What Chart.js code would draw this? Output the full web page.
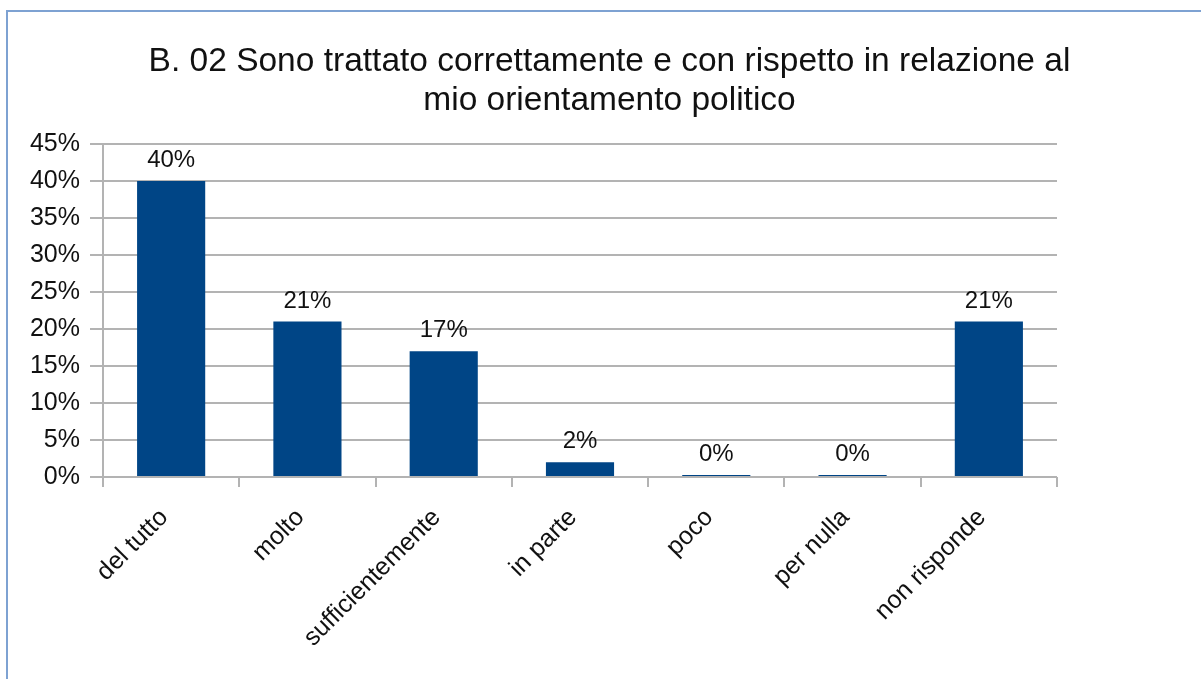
<!DOCTYPE html>
<html>
<head>
<meta charset="utf-8">
<script src="https://cdn.jsdelivr.net/npm/chart.js@4.4.1/dist/chart.umd.min.js"></script>
<style>
    html, body { margin: 0; padding: 0; background: #fff; }
    .wrap { position: relative; width: 1201px; height: 679px; overflow: hidden; }
    .frame { position: absolute; left: 6px; top: 10px; width: 1300px; height: 800px;
             border-left: 2px solid #7ea2d2; border-top: 2px solid #7ea2d2; }
    canvas { position: absolute; left: 0; top: 0; }
</style>
</head>
<body>
<div class="wrap">
    <div class="frame"></div>
    <canvas id="chart" width="1201" height="679"></canvas>
</div>
<script>
const titleLines = ["B. 02 Sono trattato correttamente e con rispetto in relazione al", "mio orientamento politico"];
const categories = ["del tutto", "molto", "sufficientemente", "in parte", "poco", "per nulla", "non risponde"];
const percentages = [0.40, 0.21, 0.17, 0.02, 0, 0, 0.21];
const yTicks = [0, 0.05, 0.10, 0.15, 0.20, 0.25, 0.30, 0.35, 0.40, 0.45];

const FONT = "'Liberation Sans', Arial, sans-serif";
const GRID = "#b3b3b3";

// value labels above each bar
const barLabels = {
    id: "barLabels",
    afterDatasetsDraw(chart) {
        const ctx = chart.ctx;
        const meta = chart.getDatasetMeta(0);
        ctx.save();
        ctx.font = "24px " + FONT;
        ctx.fillStyle = "#111";
        ctx.textAlign = "center";
        ctx.textBaseline = "alphabetic";
        meta.data.forEach((bar, i) => {
            ctx.fillText(Math.round(percentages[i] * 100) + "%", bar.x, bar.y - 14);
        });
        ctx.restore();
    }
};

new Chart(document.getElementById("chart").getContext("2d"), {
    type: "bar",
    data: {
        labels: categories,
        datasets: [{
            data: percentages,
            backgroundColor: "#004586",
            categoryPercentage: 1,
            barPercentage: 0.5,
            minBarLength: 2,
        }]
    },
    options: {
        responsive: false,
        animation: false,
        layout: { padding: { left: 18, right: 0, top: 0, bottom: 0 } },
        plugins: {
            legend: { display: false },
            tooltip: { enabled: false },
            title: {
                display: true,
                text: titleLines,
                color: "#111",
                font: { family: FONT, size: 33.5, weight: "normal", lineHeight: "39px" },
                padding: { top: 42, bottom: 24 },
            }
        },
        scales: {
            x: {
                grid: {
                    offset: true,
                    color: c => (c.index === 0 || c.index === categories.length) ? GRID : "rgba(0,0,0,0)",
                    tickColor: GRID,
                    tickLength: 10,
                    lineWidth: 2,
                },
                border: { display: false },
                ticks: {
                    color: "#111",
                    font: { family: FONT, size: 25 },
                    maxRotation: 45,
                    minRotation: 45,
                    padding: 16,
                    labelOffset: -7,
                    autoSkip: false,
                },
                afterFit: s => { s.height = 202; }
            },
            y: {
                min: 0,
                max: 0.45,
                afterBuildTicks: s => { s.ticks = yTicks.map(v => ({ value: v })); },
                grid: { color: GRID, tickLength: 13, lineWidth: 2 },
                border: { display: false },
                ticks: {
                    color: "#111",
                    font: { family: FONT, size: 25 },
                    padding: 10,
                    callback: v => Math.round(v * 100) + "%",
                },
                afterFit: s => { s.width = 85; }
            },
            // empty axis that only reserves the space right of the plot
            spacer: {
                position: "right",
                axis: "y",
                display: true,
                grid: { display: false },
                border: { display: false },
                ticks: { display: false },
                afterFit: s => { s.width = 144; }
            }
        }
    },
    plugins: [barLabels]
});
</script>
</body>
</html>
